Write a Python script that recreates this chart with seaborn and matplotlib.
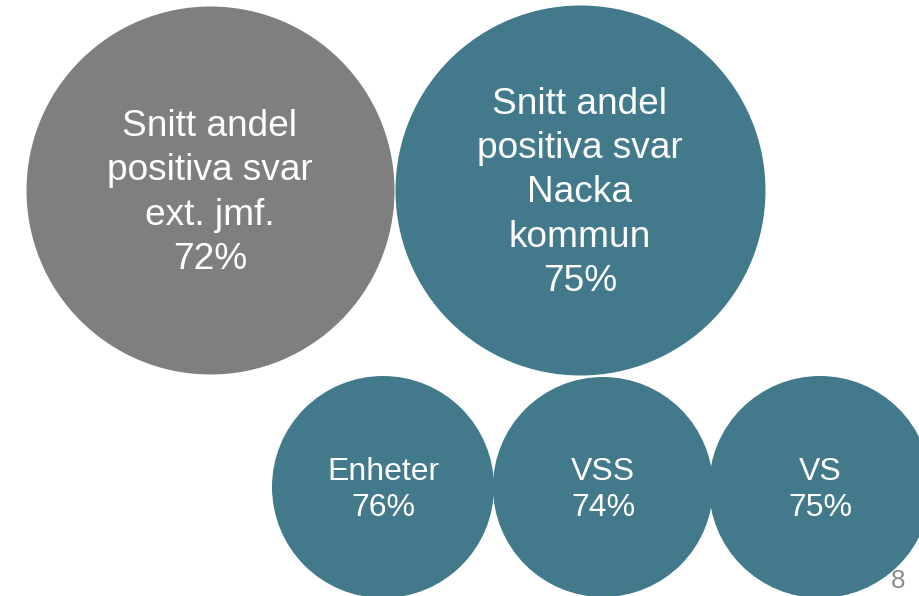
import matplotlib
matplotlib.use("Agg")
import matplotlib.pyplot as plt
import seaborn as sns
import pandas as pd

# Data
labels = ["Snitt andel\npositiva svar\next. jmf.", "Snitt andel\npositiva svar\nNacka\nkommun",
          "Enheter", "VSS", "VS"]
values = [72, 75, 76, 74, 75]
groups = ["ext", "nacka", "sub", "sub", "sub"]
page_number = "8"

# Layout (pixels)
cx = [210, 580, 383, 603, 820]
cy = [190, 190, 487, 487, 487]
radius = [184, 185, 111, 110, 111]
font_px = [37, 37, 32, 32, 32]
line_sp = [1.35, 1.35, 1.25, 1.25, 1.25]
colors = {"ext": "#7F7F7F", "nacka": "#427A8C", "sub": "#427A8C"}

W, H, DPI = 920, 596, 100
sns.set_theme(style="white")
plt.rcParams['font.family'] = ['Liberation Sans', 'DejaVu Sans']

fig = plt.figure(figsize=(W / DPI, H / DPI), dpi=DPI)
ax = fig.add_axes([0, 0, 1, 1])

df = pd.DataFrame({"x": cx, "y": cy, "r": radius, "group": groups})
df["s"] = [(2 * r * 72 / DPI) ** 2 for r in radius]
for g, sub in df.groupby("group"):
    sns.scatterplot(data=sub, x="x", y="y", s=sub["s"].tolist(), color=colors[g],
                    linewidth=0, ax=ax, legend=False, zorder=2)
ax.set_xlim(0, W)
ax.set_ylim(H, 0)
ax.set_axis_off()

pt = 72 / DPI
for i, (lab, v) in enumerate(zip(labels, values)):
    text = lab + "\n" + f"{v}%"
    fs = font_px[i] * pt
    ax.text(cx[i], cy[i] + 3, text, ha="center", va="center", color="white",
            fontsize=fs, linespacing=line_sp[i], zorder=3,
            multialignment="center")

ax.text(898, 581, page_number, ha="center", va="center", color="#8C8C8C",
        fontsize=26 * pt, zorder=1)

fig.savefig("out.png", dpi=DPI)
